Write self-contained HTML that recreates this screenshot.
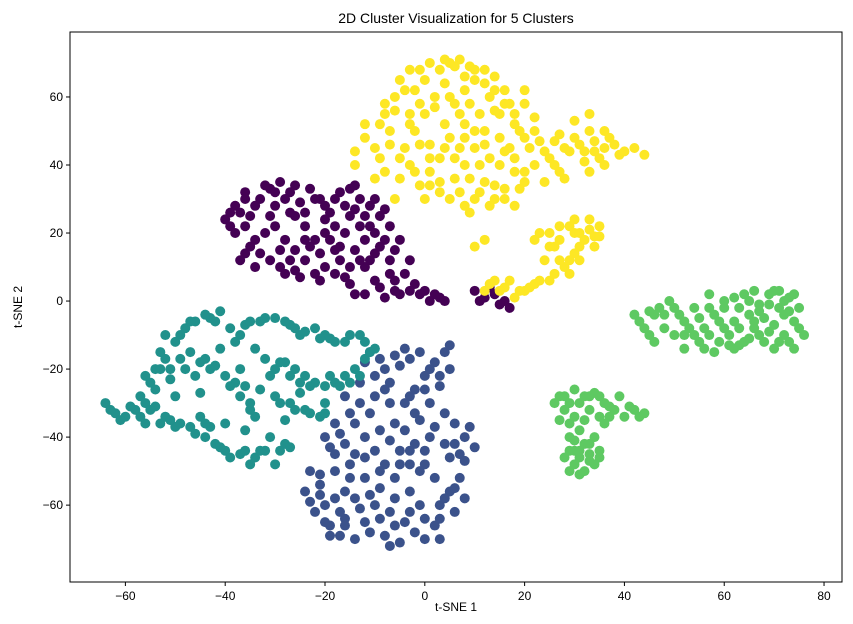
<!DOCTYPE html>
<html><head><meta charset="utf-8"><style>
html,body{margin:0;padding:0;background:#fff;}
svg{display:block;font-family:"Liberation Sans","DejaVu Sans",sans-serif;}
</style></head><body>
<svg id="chart" width="853" height="624" viewBox="0 0 853 624" xmlns="http://www.w3.org/2000/svg">
<rect width="853" height="624" fill="#fff"/>
<text x="456" y="23" text-anchor="middle" font-size="14">2D Cluster Visualization for 5 Clusters</text>
<text x="456" y="611" text-anchor="middle" font-size="12">t-SNE 1</text>
<text x="22" y="307" text-anchor="middle" font-size="12" transform="rotate(-90 22 307)">t-SNE 2</text>
<g id="points"></g>
<g id="axes"></g>
</svg>
<script>
const xTicks=[-60,-40,-20,0,20,40,60,80];
const yTicks=[-60,-40,-20,0,20,40,60];
const clusterColors=["#440154","#3b528b","#21918c","#5ec962","#fde725"];
const clusterPurple=[[-40,24],[-38,28],[-36,32],[-35,25],[-33,30],[-31,33],[-29,35],[-27,32],[-25,29],[-23,33],[-21,30],[-19,26],[-17,32],[-15,33],[-13,30],[-11,28],[-9,25],[-7,22],[-8,18],[-10,14],[-12,10],[-14,15],[-16,20],[-18,15],[-20,10],[-22,8],[-24,12],[-26,15],[-28,18],[-30,22],[-32,20],[-34,18],[-36,14],[-38,20],[-34,10],[-31,12],[-28,8],[-25,7],[-18,8],[-15,5],[-12,2],[-9,4],[-6,6],[-4,8],[-2,5],[0,3],[2,2],[4,0],[-5,2],[-8,1],[-11,12],[-13,22],[-15,25],[-20,20],[-24,22],[-26,25],[-22,18],[-17,16],[-20,28],[-12,18],[-5,18],[-3,12],[-7,12],[10,3],[12,1],[14,2],[16,0],[17,-2],[-30,28],[-36,22],[-39,26],[-27,26],[-14,27],[-10,20],[-6,15],
[-39,22],[-37,26],[-34,28],[-32,34],[-28,30],[-26,34],[-24,26],[-22,30],[-18,30],[-16,28],[-14,34],[-12,25],[-10,30],[-8,27],[-11,22],[-9,16],[-13,12],[-15,10],[-17,12],[-19,18],[-21,14],[-23,16],[-27,12],[-29,15],[-33,14],[-35,16],[-37,12],[-31,25],[-29,10],[-26,9],[-21,6],[-16,7],[-14,2],[-10,6],[-7,8],[-3,3],[-1,2],[1,0],[3,1],[-6,3],[-18,22],[-24,18],[-20,24],[-36,30],[-30,32],[11,0],[13,4],[15,-1]];
const clusterBlue=[[-12,-18],[-10,-22],[-8,-20],[-6,-16],[-4,-14],[-7,-24],[-10,-28],[-13,-30],[-15,-33],[-18,-36],[-20,-40],[-16,-42],[-12,-40],[-9,-38],[-6,-36],[-4,-30],[-2,-26],[0,-22],[2,-18],[4,-15],[5,-20],[3,-25],[1,-30],[4,-33],[6,-36],[8,-40],[10,-43],[7,-45],[4,-42],[1,-40],[-2,-42],[-5,-44],[-3,-48],[-6,-52],[-9,-55],[-12,-52],[-15,-48],[-18,-50],[-21,-54],[-24,-56],[-22,-62],[-19,-66],[-16,-64],[-13,-61],[-10,-60],[-7,-62],[-4,-65],[-2,-68],[-5,-71],[-8,-69],[-11,-68],[-14,-70],[-17,-69],[0,-64],[3,-60],[5,-56],[7,-52],[8,-58],[2,-52],[0,-48],[-3,-56],[-16,-56],[-20,-60],[-23,-50],[-13,-24],[-16,-28],[-18,-45],[-7,-30],[-1,-35],[3,-70],[6,-62],
[-11,-15],[-9,-17],[-5,-19],[-3,-17],[-1,-15],[1,-20],[3,-22],[5,-13],[-8,-26],[-11,-33],[-14,-36],[-17,-39],[-19,-43],[-14,-45],[-10,-44],[-7,-41],[-4,-38],[-2,-33],[-3,-44],[0,-44],[2,-37],[6,-42],[9,-37],[8,-47],[5,-46],[-1,-50],[-5,-48],[-8,-48],[-11,-57],[-14,-58],[-18,-58],[-21,-57],[-23,-59],[-20,-65],[-17,-62],[-12,-65],[-9,-64],[-6,-66],[-3,-62],[-1,-60],[2,-66],[4,-58],[6,-55],[-6,-58],[-9,-50],[-15,-52],[-12,-46],[-16,-66],[-19,-69],[-7,-72],[0,-70],[3,-64],[-21,-51],[-3,-28],[0,-26]];
const clusterTeal=[[-64,-30],[-62,-33],[-60,-34],[-58,-32],[-56,-30],[-54,-31],[-52,-34],[-50,-37],[-47,-37],[-45,-34],[-43,-37],[-44,-40],[-42,-42],[-40,-44],[-37,-45],[-34,-46],[-32,-44],[-30,-48],[-28,-42],[-31,-40],[-52,-17],[-54,-20],[-55,-24],[-51,-23],[-50,-12],[-48,-8],[-46,-6],[-43,-5],[-41,-3],[-47,-15],[-45,-18],[-43,-20],[-40,-22],[-38,-24],[-37,-28],[-35,-32],[-38,-12],[-36,-7],[-33,-6],[-30,-5],[-27,-7],[-25,-10],[-22,-8],[-20,-10],[-18,-12],[-15,-10],[-12,-12],[-10,-14],[-12,-17],[-14,-20],[-16,-22],[-18,-24],[-20,-25],[-22,-24],[-24,-22],[-26,-20],[-28,-18],[-30,-20],[-32,-17],[-34,-14],[-30,-28],[-27,-30],[-24,-32],[-21,-34],[-28,-35],[-25,-27],[-20,-30],[-37,-20],[-41,-14],[-50,-28],[-45,-27],[-40,-36],[-36,-38],[-48,-20],[-56,-36],[-57,-28],
[-63,-32],[-61,-35],[-59,-31],[-57,-34],[-55,-32],[-53,-36],[-51,-35],[-49,-36],[-46,-39],[-44,-36],[-41,-43],[-39,-46],[-36,-44],[-35,-48],[-33,-44],[-29,-44],[-27,-43],[-53,-20],[-53,-15],[-52,-10],[-49,-10],[-47,-6],[-44,-4],[-42,-6],[-39,-8],[-37,-10],[-35,-6],[-32,-5],[-28,-6],[-26,-8],[-24,-9],[-21,-11],[-19,-11],[-16,-12],[-13,-10],[-11,-15],[-13,-22],[-15,-24],[-17,-25],[-19,-22],[-23,-25],[-25,-24],[-27,-22],[-29,-18],[-31,-22],[-33,-26],[-29,-30],[-26,-32],[-23,-33],[-20,-33],[-44,-17],[-42,-19],[-39,-25],[-36,-25],[-35,-30],[-34,-34],[-46,-22],[-49,-17],[-51,-20],[-54,-26],[-56,-22]];
const clusterGreen=[[42,-4],[44,-8],[46,-12],[47,-2],[49,0],[51,-4],[53,-8],[55,-5],[57,-2],[59,-6],[61,-10],[63,-8],[65,-4],[67,-1],[69,2],[71,3],[73,1],[75,-2],[74,-6],[72,-10],[70,-14],[68,-12],[66,-8],[64,-12],[62,-14],[60,-2],[62,1],[64,2],[66,3],[68,-5],[70,-7],[72,-4],[55,-12],[52,-14],[48,-8],[58,-15],[50,-10],[46,-4],[76,-10],[74,-14],[57,2],[26,-30],[28,-28],[30,-26],[32,-28],[34,-27],[36,-30],[33,-32],[30,-34],[28,-32],[38,-32],[40,-34],[42,-32],[44,-33],[39,-28],[36,-36],[34,-40],[32,-42],[30,-44],[28,-46],[30,-48],[32,-50],[34,-48],[33,-45],[35,-44],[31,-38],[27,-35],[29,-40],
[43,-6],[45,-10],[45,-3],[48,-4],[50,-2],[52,-6],[54,-10],[56,-8],[58,-4],[60,-8],[62,-6],[63,-2],[65,0],[67,-3],[69,-1],[71,-2],[73,-3],[74,2],[75,-8],[73,-12],[71,-12],[69,-9],[67,-10],[65,-11],[63,-13],[61,-13],[59,-12],[57,-10],[54,-2],[52,-10],[56,-14],[60,0],[66,-6],[70,3],[72,0],[27,-28],[29,-30],[31,-30],[33,-28],[35,-28],[37,-31],[35,-34],[32,-35],[29,-36],[41,-31],[43,-34],[37,-34],[33,-42],[31,-44],[29,-44],[31,-46],[33,-47],[29,-50],[31,-51],[35,-46],[30,-41]];
const clusterYellow=[[-8,55],[-6,60],[-5,65],[-3,68],[-7,50],[-10,45],[-12,52],[-4,45],[-2,50],[0,55],[2,60],[0,65],[3,68],[5,70],[7,71],[9,69],[4,64],[6,58],[8,62],[10,65],[12,68],[14,66],[13,60],[11,55],[8,52],[5,48],[3,42],[1,38],[-1,34],[-3,40],[-5,36],[-8,38],[-6,30],[3,32],[6,36],[8,40],[10,45],[12,50],[15,55],[17,58],[15,48],[17,45],[20,48],[22,50],[24,44],[26,47],[28,45],[30,48],[32,44],[34,47],[36,50],[35,42],[33,38],[38,46],[40,44],[42,45],[44,43],[30,53],[33,55],[26,40],[22,40],[20,35],[18,38],[15,40],[12,35],[10,30],[8,28],[11,32],[14,30],[16,33],[24,35],[28,36],[18,28],[12,18],[10,16],[22,18],[25,20],[27,22],[30,24],[33,24],[35,22],[32,18],[30,14],[28,10],[26,16],[24,12],[29,8],[25,6],[22,5],[20,3],[18,1],[16,4],[14,6],[12,3],[-10,36],[-8,58],[-2,62],[16,62],[18,52],[-14,44],[20,58],[7,45],[1,46],[-3,55],[4,52],[30,20],[31,12],[34,19],[3,35],[0,30],
[-9,52],[-6,56],[-4,62],[-1,68],[1,70],[4,71],[6,69],[8,66],[10,68],[12,64],[14,62],[9,58],[7,55],[5,60],[2,57],[-1,58],[-3,52],[-1,46],[1,42],[4,45],[6,42],[8,48],[10,50],[12,46],[13,42],[11,40],[9,36],[7,32],[5,30],[1,34],[-2,38],[-5,42],[-7,46],[-9,42],[16,44],[18,42],[19,50],[21,45],[23,47],[25,42],[27,49],[29,44],[31,46],[33,50],[34,44],[36,45],[37,48],[39,43],[36,40],[32,41],[27,38],[20,38],[14,34],[13,28],[9,26],[16,30],[19,33],[23,20],[25,16],[27,18],[29,22],[31,20],[33,21],[35,19],[34,16],[31,16],[29,12],[27,12],[26,8],[23,6],[21,4],[19,3],[17,6],[15,3],[13,5],[16,58],[14,56],[18,55],[20,62],[22,54],[-12,48],[-14,40]];
const clusters=[clusterPurple,clusterBlue,clusterTeal,clusterGreen,clusterYellow];

const NS="http://www.w3.org/2000/svg";
const L=70,R=842,T=32,B=582;
const X0=-71.1,X1=83.6,Y0=-82.6,Y1=79.1;
function sx(v){return L+(v-X0)/(X1-X0)*(R-L);}
function sy(v){return B-(v-Y0)/(Y1-Y0)*(B-T);}
function mk(tag,attrs){const e=document.createElementNS(NS,tag);for(const k in attrs)e.setAttribute(k,attrs[k]);return e;}

const pg=document.getElementById('points');
clusters.forEach((pts,ci)=>{
  pts.forEach(p=>{
    const c=mk('circle',{cx:sx(p[0]),cy:sy(p[1]),r:5,fill:clusterColors[ci]});
    
    
    pg.appendChild(c);
  });
});

const ag=document.getElementById('axes');
const frame=mk('rect',{x:L,y:T,width:R-L,height:B-T,fill:'none',stroke:'#000','stroke-width':1});


ag.appendChild(frame);
xTicks.forEach(t=>{
  const x=sx(t);
  const ln=mk('line',{x1:x,x2:x,y1:B,y2:B+4,stroke:'#000'});
  
  
  ag.appendChild(ln);
  const tx=mk('text',{x:x,y:B+18,'text-anchor':'middle','font-size':12});
  
  
  tx.textContent=t<0?'\u2212'+Math.abs(t):String(t);
  ag.appendChild(tx);
});
yTicks.forEach(t=>{
  const y=sy(t);
  const ln=mk('line',{x1:L-4,x2:L,y1:y,y2:y,stroke:'#000'});
  
  
  ag.appendChild(ln);
  const tx=mk('text',{x:L-7,y:y+4,'text-anchor':'end','font-size':12});
  
  
  tx.textContent=t<0?'\u2212'+Math.abs(t):String(t);
  ag.appendChild(tx);
});
</script>
</body></html>
